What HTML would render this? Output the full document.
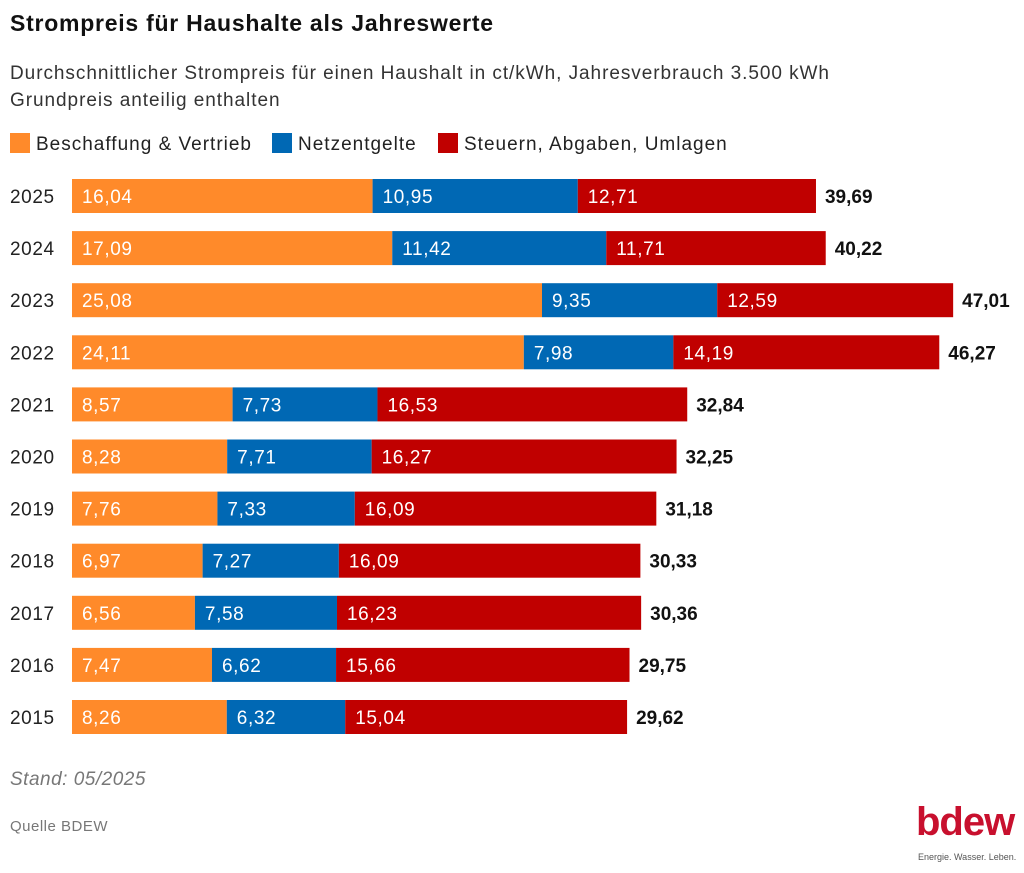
<!DOCTYPE html>
<html><head><meta charset="utf-8">
<style>
body{margin:0;width:1024px;height:873px;background:#fff;font-family:"Liberation Sans",sans-serif;color:#222;position:relative;overflow:hidden}
.t{position:absolute;white-space:nowrap}
</style></head><body>
<div class="t" style="left:10px;top:10px;font-size:23px;font-weight:bold;color:#111;letter-spacing:0.75px">Strompreis für Haushalte als Jahreswerte</div>
<div class="t" style="left:10px;top:60px;font-size:19px;line-height:27px;color:#333;letter-spacing:0.95px">Durchschnittlicher Strompreis für einen Haushalt in ct/kWh, Jahresverbrauch 3.500 kWh<br>Grundpreis anteilig enthalten</div>
<div class="t" style="left:10px;top:133px;font-size:19px;letter-spacing:1px"><span style="display:inline-block;width:20px;height:20px;background:#ff8a2a;vertical-align:-3px;margin-right:6px"></span>Beschaffung &amp; Vertrieb</div>
<div class="t" style="left:272px;top:133px;font-size:19px;letter-spacing:1px"><span style="display:inline-block;width:20px;height:20px;background:#0068b4;vertical-align:-3px;margin-right:6px"></span>Netzentgelte</div>
<div class="t" style="left:438px;top:133px;font-size:19px;letter-spacing:1px"><span style="display:inline-block;width:20px;height:20px;background:#c00000;vertical-align:-3px;margin-right:6px"></span>Steuern, Abgaben, Umlagen</div>
<svg id="chart" width="1024" height="873" style="position:absolute;left:0;top:0"></svg>
<div class="t" style="left:10px;top:769px;font-size:19px;font-style:italic;color:#777;letter-spacing:0.5px">Stand: 05/2025</div>
<div class="t" style="left:10px;top:818px;font-size:15px;color:#777;letter-spacing:0.5px">Quelle BDEW</div>
<div class="t" style="left:916px;top:800px;font-size:40px;font-weight:bold;color:#c8102e;letter-spacing:-1px">bdew</div>
<div class="t" style="left:918px;top:852px;font-size:9px;color:#555">Energie. Wasser. Leben.</div>
<script>
const years=["2025","2024","2023","2022","2021","2020","2019","2018","2017","2016","2015"];
const beschaffung=[16.04,17.09,25.08,24.11,8.57,8.28,7.76,6.97,6.56,7.47,8.26];
const netz=[10.95,11.42,9.35,7.98,7.73,7.71,7.33,7.27,7.58,6.62,6.32];
const steuern=[12.71,11.71,12.59,14.19,16.53,16.27,16.09,16.09,16.23,15.66,15.04];
const totals=["39,69","40,22","47,01","46,27","32,84","32,25","31,18","30,33","30,36","29,75","29,62"];
const svg=document.getElementById('chart');
const NS="http://www.w3.org/2000/svg";
const x=v=>72+v*18.74;
const yc=i=>196+i*52.1;
const fmt=v=>v.toFixed(2).replace('.',',');
const cols=["#ff8a2a","#0068b4","#c00000"];
const names=["beschaffung","netz","steuern"];
years.forEach((yr,i)=>{
  const lab=document.createElementNS(NS,'text');
  
  
  lab.setAttribute('x',10);lab.setAttribute('y',yc(i)+7);
  lab.setAttribute('font-size','19');lab.setAttribute('fill','#222');lab.setAttribute('letter-spacing','0.6');
  lab.textContent=yr;svg.appendChild(lab);
  const vals=[beschaffung[i],netz[i],steuern[i]];
  let acc=0;
  vals.forEach((v,k)=>{
    const r=document.createElementNS(NS,'rect');
    
    
    r.setAttribute('x',x(acc));r.setAttribute('y',yc(i)-17);
    r.setAttribute('width',x(acc+v)-x(acc));r.setAttribute('height',34);
    r.setAttribute('fill',cols[k]);svg.appendChild(r);
    const t=document.createElementNS(NS,'text');
    
    
    t.setAttribute('x',x(acc)+10);t.setAttribute('y',yc(i)+7);
    t.setAttribute('font-size','19');t.setAttribute('fill','#fff');t.setAttribute('letter-spacing','0.6');
    t.textContent=fmt(v);svg.appendChild(t);
    acc+=v;
  });
  const tt=document.createElementNS(NS,'text');
  
  
  tt.setAttribute('x',x(acc)+9);tt.setAttribute('y',yc(i)+7);
  tt.setAttribute('font-size','19');tt.setAttribute('font-weight','bold');tt.setAttribute('fill','#111');
  tt.textContent=totals[i];svg.appendChild(tt);
});
</script>
</body></html>
